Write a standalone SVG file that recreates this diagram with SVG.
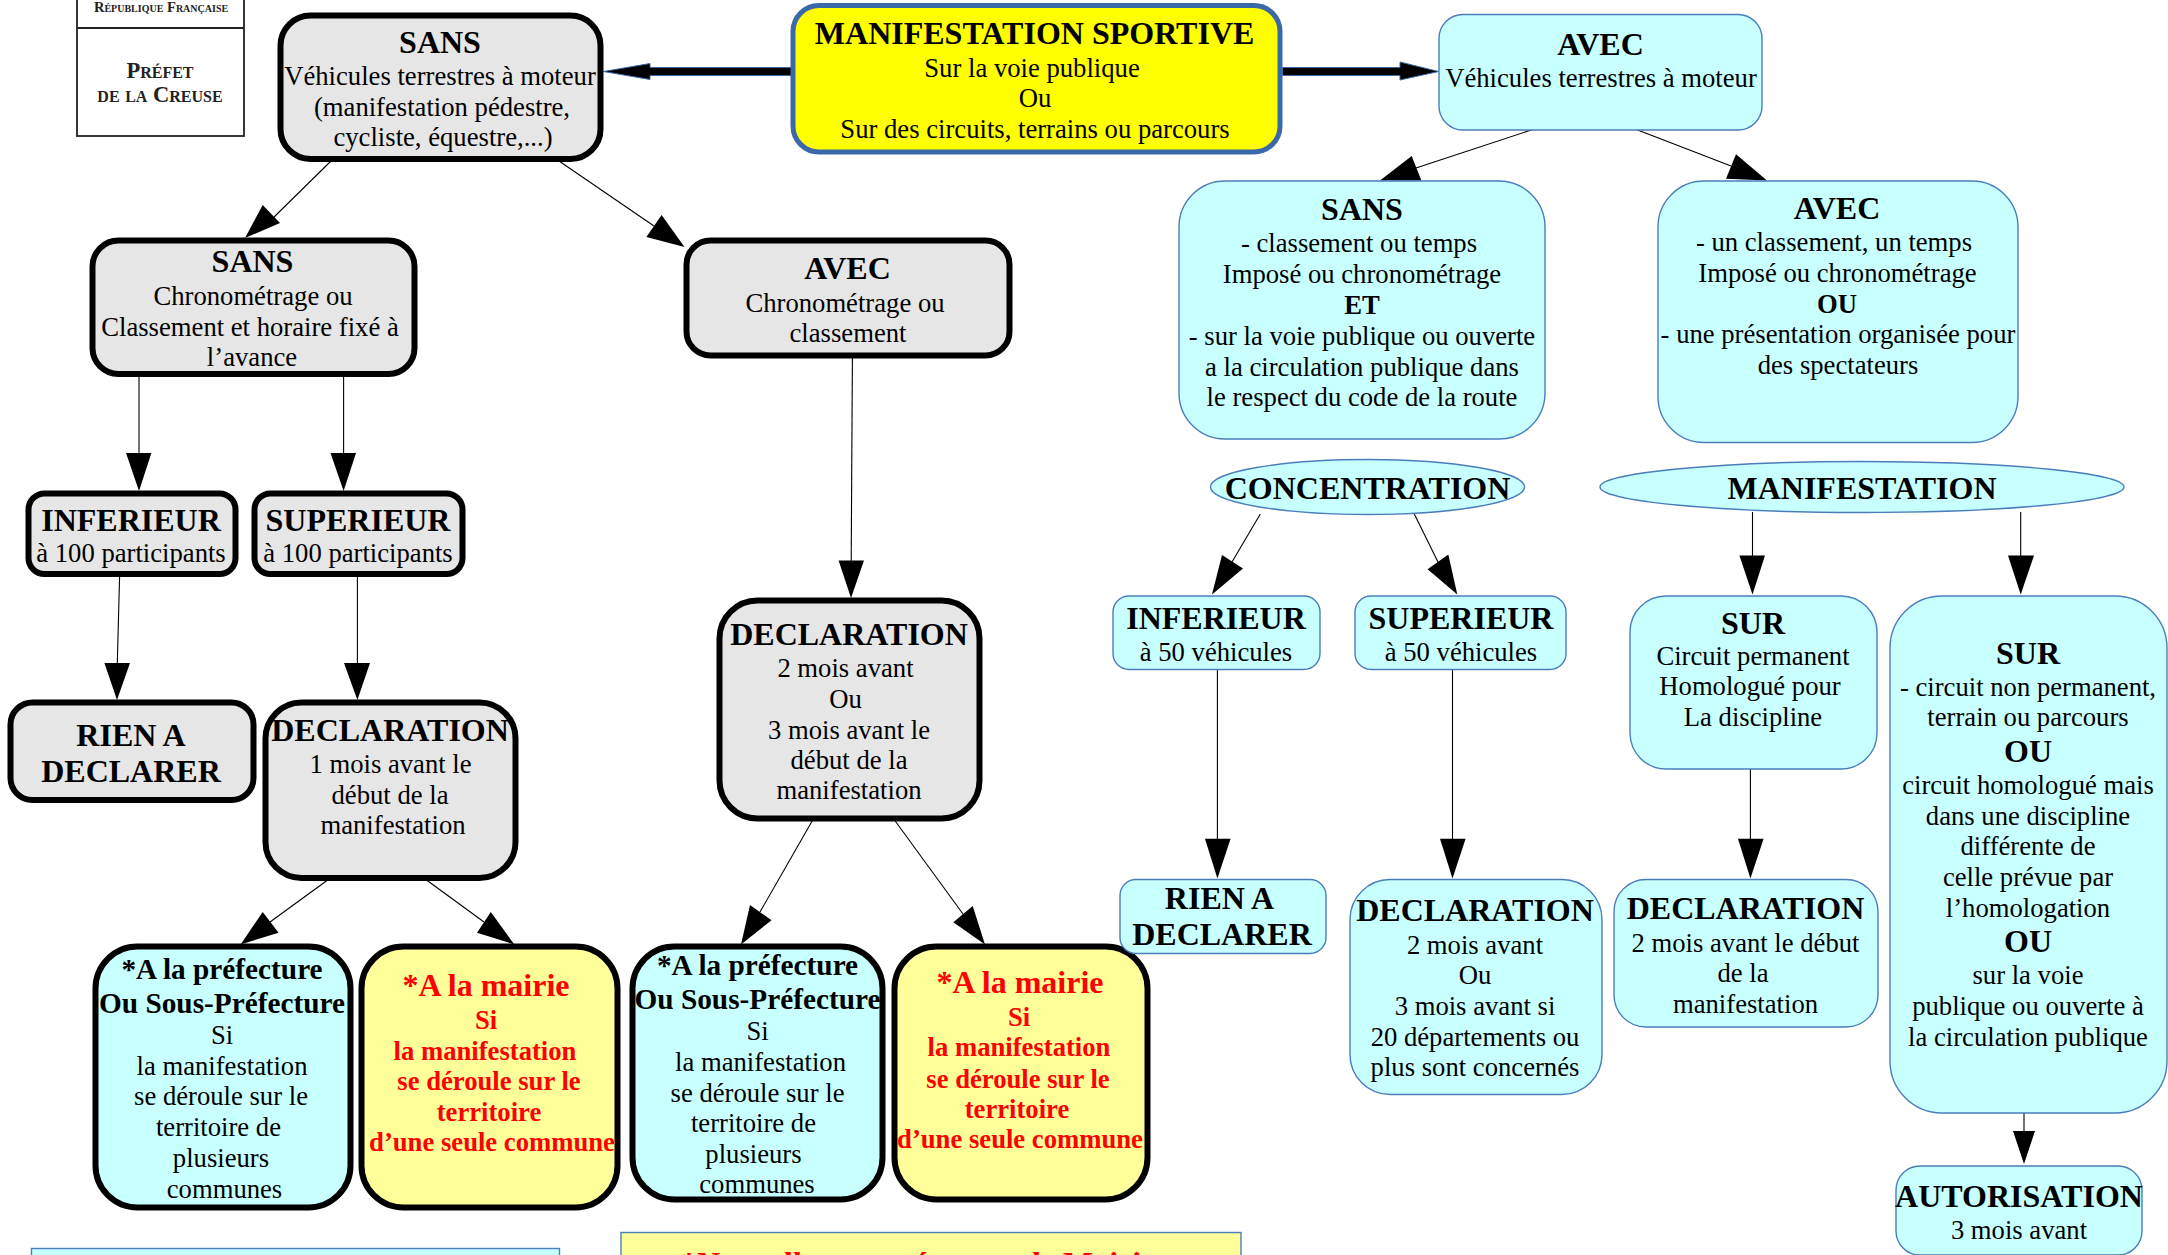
<svg xmlns="http://www.w3.org/2000/svg" width="2168" height="1255" viewBox="0 0 2168 1255">
<style>
text{font-family:"Liberation Serif","Times New Roman",serif;text-anchor:middle;fill:#000;transform:translateY(1.2px)}
.t{font-size:32px;font-weight:bold}
.b{font-size:26.67px}
.s{font-size:29.3px;font-weight:bold}
.r{fill:#f00;font-weight:bold;font-size:26.67px}
.rt{fill:#f00;font-weight:bold;font-size:32px}
.bo{font-size:26.67px;font-weight:bold}
.g{fill:#e6e6e6;stroke:#000;stroke-width:6}
.c{fill:#c8ffff;stroke:#4a7ebb;stroke-width:1.4}
.cb{fill:#c8ffff;stroke:#000;stroke-width:6}
.yb{fill:#ffff99;stroke:#000;stroke-width:6}
.ln{stroke:#000;stroke-width:1.1;fill:none}
.hd{fill:#000}
.sc{font-variant:small-caps;font-weight:bold;fill:#222;transform:none}
.n{text-anchor:start;transform:none}
</style>
<rect width="2168" height="1255" fill="#fff"/>
<g id="logo">
<rect x="77" y="-10" width="167" height="146" fill="#fff" stroke="#222" stroke-width="1.8"/>
<line x1="77" y1="28" x2="244" y2="28" stroke="#222" stroke-width="1.8"/>
<text class="sc" x="161" y="12" font-size="14.600">République Française</text>
<text class="sc" x="160" y="77.500" font-size="22.500">Préfet</text>
<text class="sc" x="160" y="101.500" font-size="22.500">de la Creuse</text>
</g>
<g id="connectors">
<g class="ln">
<line x1="331" y1="161" x2="271" y2="220"/>
<line x1="559" y1="161" x2="654" y2="226"/>
<line x1="139" y1="376" x2="139" y2="453"/>
<line x1="343.600" y1="376" x2="343.600" y2="453"/>
<line x1="852.400" y1="357.600" x2="851.200" y2="561"/>
<line x1="119.600" y1="576" x2="117.300" y2="663"/>
<line x1="357.400" y1="576" x2="357.400" y2="663"/>
<line x1="327.700" y1="880" x2="270" y2="922"/>
<line x1="426.500" y1="880" x2="484" y2="922"/>
<line x1="812.300" y1="820.700" x2="760" y2="912"/>
<line x1="895" y1="820.700" x2="963" y2="914"/>
<line x1="1532" y1="129.800" x2="1416" y2="168"/>
<line x1="1637" y1="129.800" x2="1731" y2="166"/>
<line x1="1260.300" y1="514" x2="1232" y2="562"/>
<line x1="1413.800" y1="513" x2="1438" y2="562"/>
<line x1="1752.500" y1="512" x2="1752.500" y2="556"/>
<line x1="2020.700" y1="512" x2="2020.700" y2="556"/>
<line x1="1217.400" y1="669" x2="1217.400" y2="839"/>
<line x1="1452.500" y1="669" x2="1452.500" y2="839"/>
<line x1="1750.400" y1="768.400" x2="1750.400" y2="839"/>
<line x1="2024" y1="1112" x2="2024" y2="1131"/>
</g>
<polygon points="791.500,67.500 650,67.500 650,63.500 603.500,71.500 650,79.500 650,75.500 791.500,75.500" fill="#000" stroke="#3a68a8" stroke-width="1"/>
<polygon points="1282.400,67.500 1400,67.500 1400,62 1438.600,71.500 1400,80 1400,75.500 1282.400,75.500" fill="#000" stroke="#3a68a8" stroke-width="1"/>
<g class="hd">
<polygon points="245,238 262.700,205 280,223"/>
<polygon points="684.500,247 661.600,215 646.400,237"/>
<polygon points="139,491 126,453 151.400,453"/>
<polygon points="343.600,491 330.500,453 356,453"/>
<polygon points="851,598 838.600,560.500 864,560.500"/>
<polygon points="117,700 104.400,663 130,663"/>
<polygon points="357.400,700 344,663 370,663"/>
<polygon points="240.600,944.400 262.700,911.900 278.600,932.800"/>
<polygon points="514.300,944.400 490.800,911.900 477,932.800"/>
<polygon points="741,944.400 750,905 771.500,920.300"/>
<polygon points="985,944.400 972.700,906 953.300,922.300"/>
<polygon points="1380,180.400 1411.700,155.900 1421.400,180.400"/>
<polygon points="1767,180.400 1736,154.300 1726,178.800"/>
<polygon points="1212,594.600 1222,555 1243,568.500"/>
<polygon points="1457.300,594.600 1448.300,554.400 1427.600,569.300"/>
<polygon points="1752.500,594.600 1739.400,555.600 1765,555.600"/>
<polygon points="2020.700,594.600 2008,555.600 2034,555.600"/>
<polygon points="1217.400,878.500 1205,838.700 1230.600,838.700"/>
<polygon points="1452.500,878.500 1440,838.700 1465.600,838.700"/>
<polygon points="1750.400,878.500 1738,838.700 1763.600,838.700"/>
<polygon points="2024,1164 2013,1131 2035,1131"/>
</g>
</g>
<g id="main">
<rect x="793" y="5.500" width="487" height="146.500" rx="26" fill="#ffff00" stroke="#3a68a8" stroke-width="5"/>
<text class="t" x="1034.600" y="43">MANIFESTATION SPORTIVE</text>
<text class="b" x="1032" y="76">Sur la voie publique</text>
<text class="b" x="1035" y="106">Ou</text>
<text class="b" x="1035" y="136.500">Sur des circuits, terrains ou parcours</text>
</g>
<g id="sans-vehicules">
<rect class="g" x="280.500" y="15.500" width="320" height="143.500" rx="30"/>
<text class="t" x="440" y="51.500">SANS</text>
<text class="b" x="440" y="84">Véhicules terrestres à moteur</text>
<text class="b" x="442" y="115">(manifestation pédestre,</text>
<text class="b" x="443" y="145">cycliste, équestre,...)</text>
</g>
<g id="sans-chrono">
<rect class="g" x="92.500" y="240.500" width="322" height="133.500" rx="26"/>
<text class="t" x="252.500" y="271">SANS</text>
<text class="b" x="253" y="303.500">Chronométrage ou</text>
<text class="b" x="250" y="335">Classement et horaire fixé à</text>
<text class="b" x="252" y="365">l’avance</text>
</g>
<g id="avec-chrono">
<rect class="g" x="686.500" y="240.500" width="323" height="115" rx="24"/>
<text class="t" x="847.500" y="278">AVEC</text>
<text class="b" x="845" y="310.500">Chronométrage ou</text>
<text class="b" x="848" y="340.500">classement</text>
</g>
<g id="inferieur-100">
<rect class="g" x="28.500" y="493.500" width="207" height="80.500" rx="16"/>
<text class="t" x="131" y="529.500">INFERIEUR</text>
<text class="b" x="131" y="561">à 100 participants</text>
</g>
<g id="superieur-100">
<rect class="g" x="254.500" y="493.500" width="208" height="80.500" rx="16"/>
<text class="t" x="358" y="529.500">SUPERIEUR</text>
<text class="b" x="358" y="561">à 100 participants</text>
</g>
<g id="declaration-avec">
<rect class="g" x="719.500" y="600.500" width="260" height="218" rx="38"/>
<text class="t" x="849" y="644">DECLARATION</text>
<text class="b" x="845.500" y="676">2 mois avant</text>
<text class="b" x="845.500" y="707">Ou</text>
<text class="b" x="849" y="737.500">3 mois avant le</text>
<text class="b" x="849" y="767.500">début de la</text>
<text class="b" x="849" y="798">manifestation</text>
</g>
<g id="rien-gauche">
<rect class="g" x="10.500" y="702.500" width="243" height="97.500" rx="22"/>
<text class="t" x="131" y="745">RIEN A</text>
<text class="t" x="131" y="781">DECLARER</text>
</g>
<g id="declaration-1mois">
<rect class="g" x="265.500" y="702.500" width="250" height="175.500" rx="36"/>
<text class="t" x="390" y="739.500">DECLARATION</text>
<text class="b" x="390.500" y="772">1 mois avant le</text>
<text class="b" x="390" y="803">début de la</text>
<text class="b" x="393" y="833">manifestation</text>
</g>
<g id="prefecture-1">
<rect class="cb" x="95.500" y="946.500" width="255" height="261" rx="42"/>
<text class="s" x="222" y="978">*A la préfecture</text>
<text class="s" x="222" y="1012">Ou Sous-Préfecture</text>
<text class="b" x="222" y="1043">Si</text>
<text class="b" x="222" y="1074">la manifestation</text>
<text class="b" x="221" y="1104">se déroule sur le</text>
<text class="b" x="218.500" y="1135">territoire de</text>
<text class="b" x="221" y="1166">plusieurs</text>
<text class="b" x="224.500" y="1197">communes</text>
</g>
<g id="mairie-1">
<rect class="yb" x="361.500" y="946.500" width="256" height="261" rx="42"/>
<text class="rt" x="486" y="995">*A la mairie</text>
<text class="r" x="486" y="1028">Si</text>
<text class="r" x="485" y="1059">la manifestation</text>
<text class="r" x="489" y="1089">se déroule sur le</text>
<text class="r" x="489" y="1120">territoire</text>
<text class="r" x="492" y="1150">d’une seule commune</text>
</g>
<g id="prefecture-2">
<rect class="cb" x="632.500" y="946.500" width="250" height="253" rx="42"/>
<text class="s" x="757.500" y="974">*A la préfecture</text>
<text class="s" x="757.500" y="1008">Ou Sous-Préfecture</text>
<text class="b" x="757.500" y="1039">Si</text>
<text class="b" x="760.500" y="1070">la manifestation</text>
<text class="b" x="757.500" y="1101">se déroule sur le</text>
<text class="b" x="753.500" y="1131">territoire de</text>
<text class="b" x="753.500" y="1162">plusieurs</text>
<text class="b" x="757" y="1192">communes</text>
</g>
<g id="mairie-2">
<rect class="yb" x="894.500" y="946.500" width="253" height="253" rx="42"/>
<text class="rt" x="1020" y="992">*A la mairie</text>
<text class="r" x="1019" y="1025">Si</text>
<text class="r" x="1019" y="1055">la manifestation</text>
<text class="r" x="1018" y="1087">se déroule sur le</text>
<text class="r" x="1017" y="1117">territoire</text>
<text class="r" x="1020" y="1147">d’une seule commune</text>
</g>
<g id="note-bleue">
<rect x="31.500" y="1248.500" width="528" height="40" fill="#c8ffff" stroke="#4a7ebb" stroke-width="1.4"/>
</g>
<g id="note-jaune">
<rect x="621" y="1232.500" width="620" height="60" fill="#ffff99" stroke="#4a7ebb" stroke-width="1.4"/>
<text class="rt n" x="681" y="1273.500">*Nouvelle</text>
<text class="rt n" x="839" y="1273.500">compétence</text>
<text class="rt n" x="1023" y="1273.500">de Mairie</text>
</g>
<g id="avec-vehicules">
<rect class="c" x="1439" y="14.500" width="323" height="115.500" rx="24"/>
<text class="t" x="1600.500" y="54">AVEC</text>
<text class="b" x="1601" y="86">Véhicules terrestres à moteur</text>
</g>
<g id="sans-classement">
<rect class="c" x="1179" y="181" width="366" height="258" rx="46"/>
<text class="t" x="1362" y="219">SANS</text>
<text class="b" x="1359" y="251">- classement ou temps</text>
<text class="b" x="1362" y="282">Imposé ou chronométrage</text>
<text class="bo" x="1362" y="313">ET</text>
<text class="b" x="1362" y="344">- sur la voie publique ou ouverte</text>
<text class="b" x="1362" y="375">a la circulation publique dans</text>
<text class="b" x="1362" y="405">le respect du code de la route</text>
</g>
<g id="avec-classement">
<rect class="c" x="1658" y="181" width="360" height="261.500" rx="46"/>
<text class="t" x="1837" y="217.500">AVEC</text>
<text class="b" x="1834" y="250">- un classement, un temps</text>
<text class="b" x="1837.500" y="281">Imposé ou chronométrage</text>
<text class="bo" x="1837" y="312">OU</text>
<text class="b" x="1838" y="342">- une présentation organisée pour</text>
<text class="b" x="1838" y="373">des spectateurs</text>
</g>
<g id="concentration">
<ellipse class="c" cx="1367.500" cy="487" rx="157" ry="27.500"/>
<text class="t" x="1367.500" y="498">CONCENTRATION</text>
</g>
<g id="manifestation">
<ellipse class="c" cx="1862" cy="487" rx="262" ry="25.500"/>
<text class="t" x="1862" y="498">MANIFESTATION</text>
</g>
<g id="inferieur-50">
<rect class="c" x="1113" y="596" width="207" height="73.500" rx="16"/>
<text class="t" x="1216" y="628">INFERIEUR</text>
<text class="b" x="1216" y="660">à 50 véhicules</text>
</g>
<g id="superieur-50">
<rect class="c" x="1355" y="596" width="211" height="73.500" rx="16"/>
<text class="t" x="1461" y="628">SUPERIEUR</text>
<text class="b" x="1461" y="660">à 50 véhicules</text>
</g>
<g id="sur-permanent">
<rect class="c" x="1630" y="596" width="247" height="173" rx="36"/>
<text class="t" x="1753" y="633">SUR</text>
<text class="b" x="1753" y="664">Circuit permanent</text>
<text class="b" x="1750" y="694">Homologué pour</text>
<text class="b" x="1753" y="725">La discipline</text>
</g>
<g id="sur-non-permanent">
<rect class="c" x="1890" y="596" width="277" height="517" rx="52"/>
<text class="t" x="2028" y="663">SUR</text>
<text class="b" x="2028" y="695">- circuit non permanent,</text>
<text class="b" x="2028" y="725">terrain ou parcours</text>
<text class="t" x="2028" y="761">OU</text>
<text class="b" x="2028" y="793">circuit homologué mais</text>
<text class="b" x="2028" y="824">dans une discipline</text>
<text class="b" x="2028" y="854">différente de</text>
<text class="b" x="2028" y="885">celle prévue par</text>
<text class="b" x="2028" y="916">l’homologation</text>
<text class="t" x="2028" y="950.500">OU</text>
<text class="b" x="2028" y="983">sur la voie</text>
<text class="b" x="2028" y="1014">publique ou ouverte à</text>
<text class="b" x="2028" y="1045">la circulation publique</text>
</g>
<g id="rien-droite">
<rect class="c" x="1120" y="879.500" width="206" height="74" rx="16"/>
<text class="t" x="1219.500" y="908">RIEN A</text>
<text class="t" x="1222" y="944">DECLARER</text>
</g>
<g id="declaration-2mois">
<rect class="c" x="1350" y="879.500" width="252" height="215" rx="40"/>
<text class="t" x="1475" y="920">DECLARATION</text>
<text class="b" x="1475" y="953">2 mois avant</text>
<text class="b" x="1475" y="983">Ou</text>
<text class="b" x="1475" y="1014">3 mois avant si</text>
<text class="b" x="1475" y="1045">20 départements ou</text>
<text class="b" x="1475" y="1075">plus sont concernés</text>
</g>
<g id="declaration-sur">
<rect class="c" x="1614" y="879.500" width="264" height="147.500" rx="32"/>
<text class="t" x="1745.500" y="917.500">DECLARATION</text>
<text class="b" x="1745.500" y="950.500">2 mois avant le début</text>
<text class="b" x="1743" y="980.500">de la</text>
<text class="b" x="1745.500" y="1011.500">manifestation</text>
</g>
<g id="autorisation">
<rect class="c" x="1896" y="1166" width="246" height="89" rx="24"/>
<text class="t" x="2019" y="1205.500">AUTORISATION</text>
<text class="b" x="2019" y="1237.500">3 mois avant</text>
</g>
</svg>
